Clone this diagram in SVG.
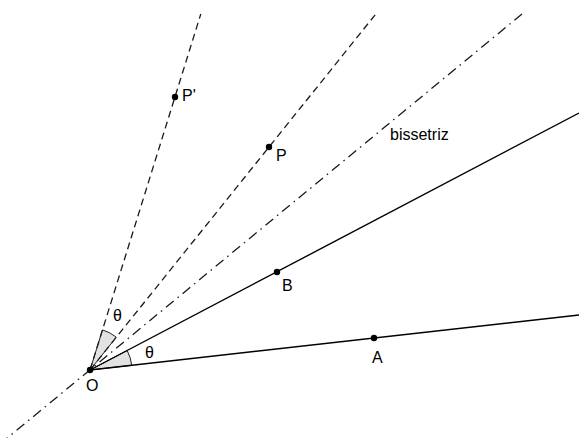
<svg xmlns="http://www.w3.org/2000/svg" width="579" height="438" viewBox="0 0 579 438">
<style>
.solid{stroke:#000;stroke-width:1.4;fill:none}
.dash{stroke:#1a1a1a;stroke-width:1.3;fill:none;stroke-dasharray:7 4.5}
.dashdot{stroke:#1a1a1a;stroke-width:1.3;fill:none;stroke-dasharray:10 5 1.5 5}
.wedge{fill:#e2e2e2;stroke:#222;stroke-width:1}
.pt{fill:#000}
text{font-family:"Liberation Sans",Arial,sans-serif;font-size:16px;fill:#000}
</style>
<rect width="579" height="438" fill="#fff"/>
<g id="angles">
<path class="wedge" d="M90,370 L131.7,365.3 A42,42 0 0 0 127.2,350.5 Z"/>
<path class="wedge" d="M90,370 L116.3,337.2 A42,42 0 0 0 102.5,329.9 Z"/>
</g>
<g id="connectors">
<line class="solid" x1="90" y1="370" x2="579" y2="315"/>
<line class="solid" x1="90" y1="370" x2="579" y2="113"/>
<line class="dash" x1="90" y1="370" x2="375.8" y2="14"/>
<line class="dash" x1="90" y1="370" x2="200.8" y2="14"/>
<line class="dashdot" x1="0" y1="444" x2="522" y2="14"/>
</g>
<g id="O"><circle class="pt" cx="90" cy="370" r="3.2"/><text x="86" y="391">O</text></g>
<g id="A"><circle class="pt" cx="374" cy="338" r="3.2"/><text x="372" y="363">A</text></g>
<g id="B"><circle class="pt" cx="277" cy="272" r="3.2"/><text x="282" y="291">B</text></g>
<g id="P"><circle class="pt" cx="269" cy="147" r="3.2"/><text x="276" y="161">P</text></g>
<g id="Pprime"><circle class="pt" cx="175" cy="97" r="3.2"/><text x="182" y="101">P'</text></g>
<g id="labels">
<text x="390" y="140">bissetriz</text>
<text x="145" y="358">θ</text>
<text x="113" y="321">θ</text>
</g>
</svg>
